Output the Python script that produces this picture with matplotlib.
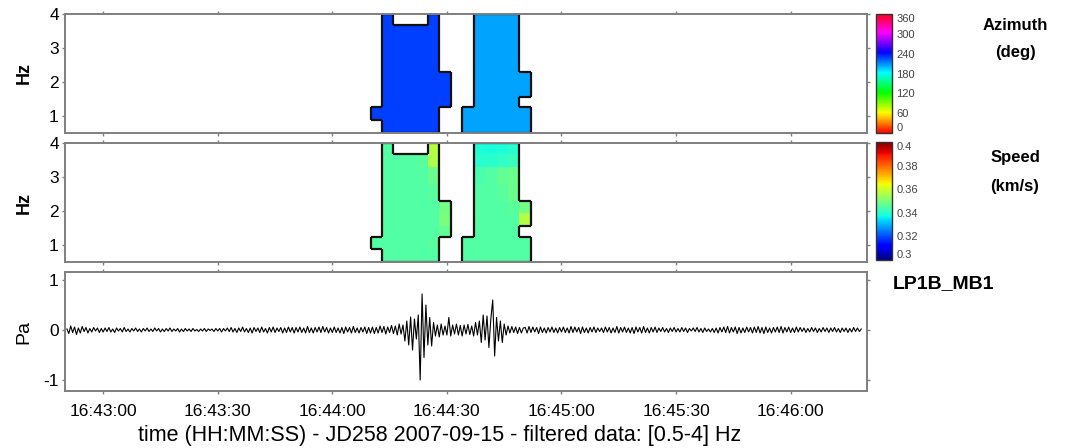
import numpy as np
import matplotlib
matplotlib.use("Agg")
import matplotlib.pyplot as plt
from matplotlib.collections import LineCollection

plt.rcParams["font.family"] = ["Liberation Sans", "DejaVu Sans"]
plt.rcParams["axes.unicode_minus"] = False

n = np.nan

# time axis: seconds after 16:42:50
TICK_POS = [10, 40, 70, 100, 130, 160, 190]
TICK_LABELS = ["16:43:00", "16:43:30", "16:44:00", "16:44:30",
               "16:45:00", "16:45:30", "16:46:00"]

# time-frequency cell edges
T_EDGES = [80, 83, 86, 89, 92, 95, 98, 101, 104, 107, 110, 113, 116, 119, 122]
F_EDGES = [0.5, 0.875, 1.25, 1.55, 1.95, 2.3, 2.8, 3.3, 3.68, 4.0]

# azimuth (deg), rows listed from top (high Hz) to bottom
AZIMUTH = [
    [n, 228, n, n, n, 228, n, n, n, 205, 205, 205, 205, n],
    [n, 228, 228, 228, 228, 228, n, n, n, 205, 205, 205, 205, n],
    [n, 228, 228, 228, 228, 228, n, n, n, 205, 205, 205, 205, n],
    [n, 228, 228, 228, 228, 228, n, n, n, 205, 205, 205, 205, n],
    [n, 228, 228, 228, 228, 228, 228, n, n, 205, 205, 205, 205, 205],
    [n, 228, 228, 228, 228, 228, 228, n, n, 205, 205, 205, 205, 205],
    [n, 228, 228, 228, 228, 228, 228, n, n, 205, 205, 205, 205, n],
    [228, 228, 228, 228, 228, 228, n, n, 205, 205, 205, 205, 205, 205],
    [n, 228, 228, 228, 228, 228, n, n, 205, 205, 205, 205, 205, 205],
]

# apparent speed (km/s), same layout
SPEED = [
    [n, .345, n, n, n, .357, n, n, n, .339, .338, .339, .340, n],
    [n, .345, .345, .345, .346, .356, n, n, n, .340, .340, .341, .342, n],
    [n, .345, .345, .345, .345, .348, n, n, n, .344, .345, .347, .348, n],
    [n, .345, .345, .345, .345, .346, n, n, n, .345, .345, .346, .348, n],
    [n, .345, .345, .345, .345, .345, .349, n, n, .345, .345, .345, .346, .349],
    [n, .345, .345, .345, .345, .345, .350, n, n, .345, .345, .345, .345, .357],
    [n, .345, .345, .345, .345, .345, .347, n, n, .345, .345, .345, .345, n],
    [.345, .345, .345, .345, .345, .346, n, n, .345, .345, .345, .345, .345, .345],
    [n, .345, .345, .345, .345, .345, n, n, .345, .345, .345, .345, .345, .345],
]

# filtered pressure trace (Pa), one sample every 0.5 s from t = 0.5 s
PRESSURE = [
    0.02, -0.07, 0.08, -0.05, 0.06, -0.09, 0.04, -0.06, 0.07, -0.03, 0.05, -0.06, 0.03, -0.04, 0.05, -0.02, 0.04, -0.05, 0.03, -0.04,
    0.04, -0.03, 0.05, -0.04, 0.02, -0.05, 0.04, -0.02, 0.03, -0.04, 0.05, -0.03, 0.02, -0.04, 0.03, -0.02, 0.04, -0.03, 0.02, -0.04,
    0.03, -0.02, 0.04, -0.03, 0.02, -0.03, 0.04, -0.02, 0.03, -0.04, 0.02, -0.03, 0.03, -0.02, 0.04, -0.03, 0.02, -0.02, 0.03, -0.04,
    0.02, -0.03, 0.03, -0.02, 0.02, -0.03, 0.03, -0.02, 0.01, -0.03, 0.02, -0.02, 0.03, -0.03, 0.02, -0.01, 0.02, -0.03, 0.03, -0.02,
    0.03, -0.04, 0.03, -0.02, 0.04, -0.03, 0.05, -0.04, 0.03, -0.05, 0.04, -0.03, 0.06, -0.04, 0.03, -0.05, 0.04, -0.06, 0.05, -0.03,
    0.04, -0.05, 0.06, -0.04, 0.03, -0.06, 0.05, -0.04, 0.06, -0.05, 0.04, -0.03, 0.05, -0.06, 0.04, -0.05, 0.06, -0.04, 0.05, -0.06,
    0.05, -0.04, 0.06, -0.05, 0.04, -0.06, 0.07, -0.05, 0.04, -0.06, 0.05, -0.04, 0.06, -0.05, 0.07, -0.04, 0.05, -0.06, 0.04, -0.05,
    0.06, -0.05, 0.04, -0.06, 0.05, -0.07, 0.06, -0.04, 0.05, -0.06, 0.07, -0.05, 0.04, -0.06, 0.05, -0.04, 0.06, -0.07, 0.05, -0.06,
    0.06, -0.07, 0.05, -0.06, 0.08, -0.05, 0.07, -0.08, 0.06, -0.05, 0.09, -0.07, 0.08, -0.10, 0.12, -0.08, 0.10, -0.22, 0.18, -0.30,
    0.26, -0.40, 0.22, -0.18, 0.30, -1.00, 0.72, -0.55, 0.50, -0.30, 0.25, -0.32, 0.15, -0.12, 0.10, -0.14, 0.12, -0.10, 0.08, -0.10,
    0.25, -0.12, 0.10, -0.08, 0.12, -0.10, 0.09, -0.12, 0.10, -0.08, 0.11, -0.09, 0.08, -0.12, 0.15, -0.10, 0.18, -0.25, 0.30, -0.20,
    0.28, -0.35, 0.22, 0.60, -0.52, 0.25, -0.22, 0.18, -0.25, 0.12, -0.10, 0.08, -0.06, 0.07, -0.05, 0.06, -0.07, 0.05, -0.06, 0.04,
    0.05, -0.06, 0.07, -0.05, 0.06, -0.04, 0.05, -0.07, 0.06, -0.05, 0.04, -0.06, 0.05, -0.04, 0.06, -0.05, 0.04, -0.06, 0.05, -0.04,
    0.06, -0.05, 0.04, -0.06, 0.07, -0.05, 0.06, -0.04, 0.05, -0.07, 0.06, -0.05, 0.04, -0.06, 0.05, -0.04, 0.06, -0.05, 0.04, -0.03,
    0.04, -0.05, 0.06, -0.04, 0.05, -0.06, 0.04, -0.05, 0.07, -0.06, 0.05, -0.04, 0.06, -0.05, 0.04, -0.06, 0.05, -0.07, 0.06, -0.04,
    0.05, -0.06, 0.07, -0.05, 0.04, -0.06, 0.05, -0.04, 0.06, -0.05, 0.04, -0.03, 0.05, -0.04, 0.03, -0.05, 0.04, -0.03, 0.05, -0.04,
    0.03, -0.04, 0.05, -0.03, 0.04, -0.05, 0.03, -0.02, 0.04, -0.03, 0.05, -0.04, 0.03, -0.05, 0.04, -0.03, 0.02, -0.04, 0.03, -0.05,
    0.04, -0.06, 0.05, -0.04, 0.06, -0.05, 0.07, -0.06, 0.05, -0.04, 0.06, -0.07, 0.05, -0.06, 0.04, -0.05, 0.06, -0.04, 0.05, -0.06,
    0.06, -0.05, 0.07, -0.06, 0.05, -0.07, 0.06, -0.05, 0.04, -0.06, 0.05, -0.04, 0.06, -0.05, 0.07, -0.06, 0.05, -0.04, 0.06, -0.05,
    0.04, -0.05, 0.06, -0.04, 0.05, -0.03, 0.04, -0.05, 0.03, -0.04, 0.05, -0.03, 0.04, -0.05, 0.03, -0.04, 0.05, -0.03, 0.04, -0.05,
    0.04, -0.03, 0.05, -0.04, 0.03, -0.05, 0.04, -0.03, 0.04, -0.05, 0.03, -0.04, 0.05, -0.03, 0.04, -0.03, 0.02,
]
PRESSURE_T0, PRESSURE_DT = 0.5, 0.5

AZ_TICKS = [0, 60, 120, 180, 240, 300, 360]
SPEED_TICKS = [0.30, 0.32, 0.34, 0.36, 0.38, 0.40]
SPEED_TICK_LABELS = ["0.3", "0.32", "0.34", "0.36", "0.38", "0.4"]

FRAME = "#7f7f7f"
W, H = 1067, 448


def box(px_left, px_top, px_right, px_bottom):
    return [px_left / W, 1 - px_bottom / H, (px_right - px_left) / W,
            (px_bottom - px_top) / H]


def outline(t_edges, f_edges, grid):
    """Edges of filled cells that border an empty cell."""
    filled = ~np.isnan(grid)
    nr, nc = filled.shape
    segs = []
    for r in range(nr):
        for c in range(nc):
            if not filled[r, c]:
                continue
            x0, x1 = t_edges[c], t_edges[c + 1]
            y0, y1 = f_edges[r], f_edges[r + 1]
            if c == 0 or not filled[r, c - 1]:
                segs.append([(x0, y0), (x0, y1)])
            if c == nc - 1 or not filled[r, c + 1]:
                segs.append([(x1, y0), (x1, y1)])
            if r == 0 or not filled[r - 1, c]:
                segs.append([(x0, y0), (x1, y0)])
            if r == nr - 1 or not filled[r + 1, c]:
                segs.append([(x0, y1), (x1, y1)])
    return segs


def style(ax, show_x):
    for s in ax.spines.values():
        s.set_color(FRAME)
        s.set_linewidth(1.4)
    ax.tick_params(direction="out", length=2.5, width=1, color=FRAME,
                   top=True, right=True, labelsize=12.5, pad=2)
    ax.tick_params(axis="x", pad=7)
    ax.set_xlim(0, 210)
    ax.set_xticks(TICK_POS)
    if show_x:
        ax.set_xticklabels(TICK_LABELS)
    else:
        ax.set_xticklabels([])


fig = plt.figure(figsize=(W / 100, H / 100), dpi=100)
ax1 = fig.add_axes(box(65, 14, 867, 133))
ax2 = fig.add_axes(box(65, 143, 867, 262))
ax3 = fig.add_axes(box(65, 272, 867, 391))
cax1 = fig.add_axes(box(876, 14, 892, 133))
cax2 = fig.add_axes(box(876, 142, 892, 260))

az = np.array(AZIMUTH, dtype=float)[::-1]
sp = np.array(SPEED, dtype=float)[::-1]

m1 = ax1.pcolormesh(T_EDGES, F_EDGES, np.ma.masked_invalid(az),
                    cmap="hsv", vmin=0, vmax=360)
ax1.add_collection(LineCollection(outline(T_EDGES, F_EDGES, az),
                                  colors="#111111", linewidths=1.6))
m2 = ax2.pcolormesh(T_EDGES, F_EDGES, np.ma.masked_invalid(sp),
                    cmap="jet", vmin=0.3, vmax=0.4)
ax2.add_collection(LineCollection(outline(T_EDGES, F_EDGES, sp),
                                  colors="#111111", linewidths=1.6))

for ax in (ax1, ax2):
    style(ax, False)
    ax.set_ylim(0.5, 4)
    ax.set_yticks([1, 2, 3, 4])
    ax.set_ylabel("Hz", fontsize=13, fontweight="bold", labelpad=12)

t = PRESSURE_T0 + PRESSURE_DT * np.arange(len(PRESSURE))
ax3.plot(t, PRESSURE, color="black", linewidth=0.8)
style(ax3, True)
ax3.set_ylim(-1.22, 1.16)
ax3.set_yticks([-1, 0, 1])
ax3.set_ylabel("Pa", fontsize=14, labelpad=8)

cb1 = fig.colorbar(m1, cax=cax1, ticks=AZ_TICKS)
cb2 = fig.colorbar(m2, cax=cax2, ticks=SPEED_TICKS)
cb2.ax.set_yticklabels(SPEED_TICK_LABELS)
for cb in (cb1, cb2):
    cb.outline.set_edgecolor("#333333")
    cb.outline.set_linewidth(1.0)
    cb.ax.tick_params(length=0, labelsize=8, labelcolor="#444444", pad=3)
    labels = cb.ax.get_yticklabels()
    labels[0].set_va("bottom")
    labels[-1].set_va("top")

fig.text(1015 / W, 1 - 25 / H, "Azimuth", ha="center", va="center",
         fontsize=12, fontweight="bold")
fig.text(1015 / W, 1 - 53 / H, "(deg)", ha="center", va="center",
         fontsize=12, fontweight="bold")
fig.text(1015 / W, 1 - 157 / H, "Speed", ha="center", va="center",
         fontsize=12, fontweight="bold")
fig.text(1015 / W, 1 - 186 / H, "(km/s)", ha="center", va="center",
         fontsize=12, fontweight="bold")
fig.text(893 / W, 1 - 284 / H, "LP1B_MB1", ha="left", va="center",
         fontsize=14, fontweight="bold")
fig.text(440 / W, 1 - 435 / H,
         "time (HH:MM:SS) - JD258 2007-09-15 - filtered data: [0.5-4] Hz",
         ha="center", va="center", fontsize=15.5)

fig.savefig("out.png", dpi=100, facecolor="white")
